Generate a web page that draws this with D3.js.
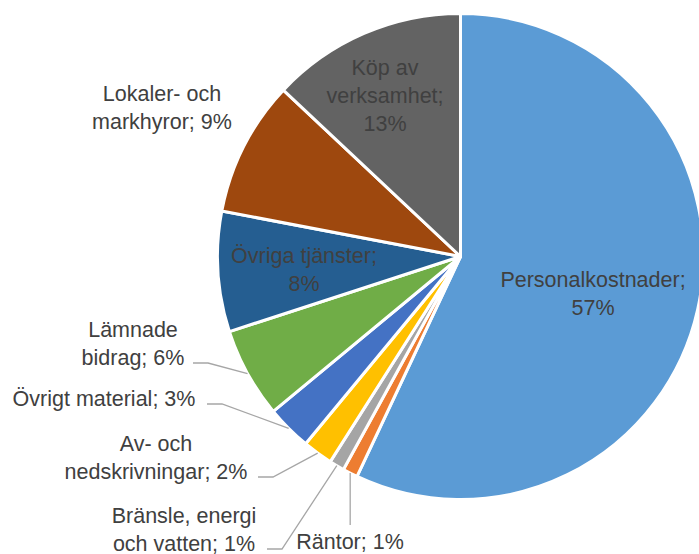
<!DOCTYPE html>
<html>
<head>
<meta charset="utf-8">
<script src="https://cdn.jsdelivr.net/npm/d3@7/dist/d3.min.js"></script>
<style>
  body { margin: 0; background: #fff; }
  svg { display: block; }
  .lbl { font-family: "Liberation Sans", Arial, sans-serif; font-size: 21.5px; fill: #404040; }
  .leader { fill: none; stroke: #a6a6a6; stroke-width: 1.3; }
</style>
</head>
<body>
<svg id="chart" width="699" height="554"></svg>
<script>
// data
var categories = ["Personalkostnader", "Räntor", "Bränsle, energi och vatten", "Av- och nedskrivningar",
                  "Övrigt material", "Lämnade bidrag", "Övriga tjänster", "Lokaler- och markhyror", "Köp av verksamhet"];
var values = [57, 1, 1, 2, 3, 6, 8, 9, 13];
var labelLines = [
  ["Personalkostnader;", "57%"],
  ["Räntor; 1%"],
  ["Bränsle, energi", "och vatten; 1%"],
  ["Av- och", "nedskrivningar; 2%"],
  ["Övrigt material; 3%"],
  ["Lämnade", "bidrag; 6%"],
  ["Övriga tjänster;", "8%"],
  ["Lokaler- och", "markhyror; 9%"],
  ["Köp av", "verksamhet;", "13%"]
];
var colors = ["#5b9bd5", "#ed7d31", "#a5a5a5", "#ffc000", "#4472c4", "#70ad47", "#255e91", "#9e480e", "#636363"];

// layout: label anchor (centre x, first line centre y) and leader elbow
var cx = 460.5, cy = 256.5, r = 243, lineH = 28;
var labelPos = [
  {x: 593, y: 279},
  {x: 350, y: 541, leader: "down"},
  {x: 184, y: 515, leader: "side", ex: 267},
  {x: 156, y: 443, leader: "side", ex: 258},
  {x: 104, y: 398, leader: "side", ex: 207},
  {x: 133, y: 329, leader: "side", ex: 193},
  {x: 304, y: 255},
  {x: 162, y: 93},
  {x: 385, y: 67}
];

var data = categories.map(function(c, i) {
  return {name: c, value: values[i], color: colors[i], lines: labelLines[i], pos: labelPos[i]};
});

var svg = d3.select("#chart");
var g = svg.append("g").attr("transform", "translate(" + cx + "," + cy + ")");

var pie = d3.pie().sort(null).value(function(d) { return d.value; });
var arc = d3.arc().innerRadius(0).outerRadius(r);
var edge = d3.arc().innerRadius(r).outerRadius(r);
var arcs = pie(data);

g.selectAll("path.slice")
  .data(arcs)
  .enter()
  .append("path")
  .attr("class", "slice")
  .attr("d", arc)
  .attr("fill", function(d) { return d.data.color; })
  .attr("stroke", "#fff")
  .attr("stroke-width", 3)
  .attr("stroke-linejoin", "round");

// leader lines
arcs.forEach(function(d) {
  var p = d.data.pos;
  if (!p.leader) return;
  var e = edge.centroid(d);
  var ex = e[0] + cx, ey = e[1] + cy;
  var pts;
  if (p.leader === "down") {
    pts = [[ex, ey], [ex, p.y - 16]];
  } else {
    var ly = p.y + (d.data.lines.length - 1) * lineH + 6;
    pts = [[p.ex, ly], [p.ex + 15, ly], [ex, ey]];
  }
  svg.append("polyline")
    .attr("class", "leader")
    .attr("points", pts.map(function(q) { return q.join(","); }).join(" "));
});

// labels
var lbl = svg.selectAll("text.lbl")
  .data(data)
  .enter()
  .append("text")
  .attr("class", "lbl")
  .attr("text-anchor", "middle")
  .attr("x", function(d) { return d.pos.x; })
  .attr("y", function(d) { return d.pos.y; });

lbl.selectAll("tspan")
  .data(function(d) { return d.lines.map(function(t, i) { return {t: t, x: d.pos.x, i: i}; }); })
  .enter()
  .append("tspan")
  .attr("x", function(d) { return d.x; })
  .attr("dy", function(d) { return d.i === 0 ? "0.35em" : lineH; })
  .text(function(d) { return d.t; });
</script>
</body>
</html>
